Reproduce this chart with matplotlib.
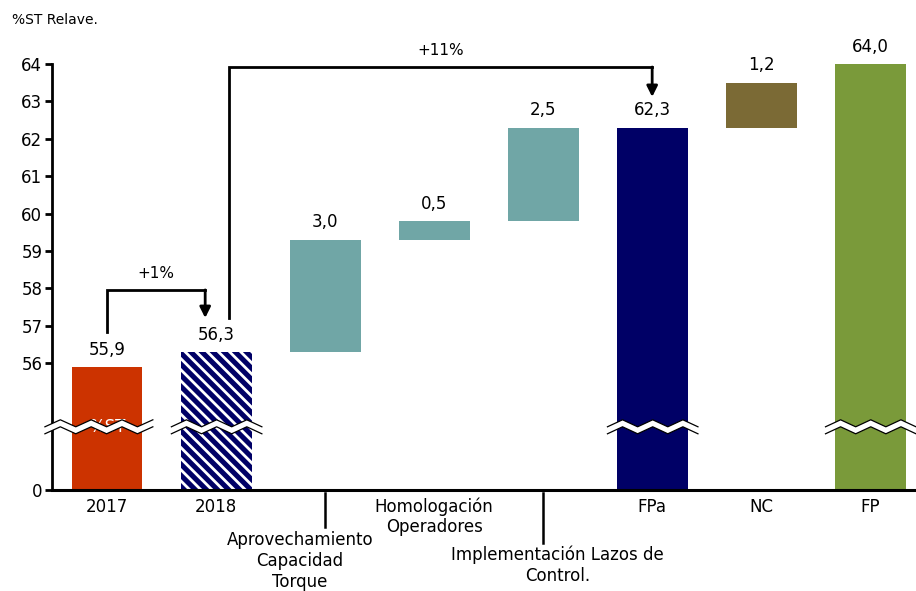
import numpy as np
import matplotlib
matplotlib.use("Agg")
import matplotlib.pyplot as plt
from matplotlib.transforms import blended_transform_factory
from matplotlib.patches import Polygon

# ---- data -------------------------------------------------------------
categories = ["2017", "2018", "Aprovechamiento\nCapacidad\nTorque",
              "Homologación\nOperadores", "Implementación Lazos de\nControl.",
              "FPa", "NC", "FP"]
kinds = ["total", "total", "delta", "delta", "delta", "total", "delta", "total"]
values = [55.9, 56.3, 3.0, 0.5, 2.5, 62.3, 1.2, 64.0]
value_labels = ["55,9", "56,3", "3,0", "0,5", "2,5", "62,3", "1,2", "64,0"]
colors = ["#CC3300", "#000066", "#70A6A6", "#70A6A6", "#70A6A6",
          "#000066", "#7B6A35", "#7A9A3A"]
hatched = [False, True, False, False, False, False, False, False]
growth_labels = ["+1%", "+11%"]
yticks = [0, 56, 57, 58, 59, 60, 61, 62, 63, 64]

# ---- broken y scale: linear above the break, compressed below -----------
BREAK = 54.3
D0 = 52.61


def fwd(y):
    y = np.asarray(y, dtype=float)
    return np.where(y >= BREAK, y, D0 + y * (BREAK - D0) / BREAK)


def inv(d):
    d = np.asarray(d, dtype=float)
    return np.where(d >= BREAK, d, (d - D0) * BREAK / (BREAK - D0))


plt.rcParams["font.family"] = ["DejaVu Sans"]
plt.rcParams["hatch.linewidth"] = 2.0

fig = plt.figure(figsize=(9.16, 5.91), dpi=100)
ax = fig.add_axes([52 / 916, 101 / 591, 1 - 52 / 916, 426 / 591])
ax.set_yscale("function", functions=(fwd, inv))
ax.set_ylim(0, 64)
ax.set_xlim(-0.505, 7.42)

FS = 12
width = 0.65

# ---- bars ---------------------------------------------------------------
bottoms, tops = [], []
running = 0.0
for k, v in zip(kinds, values):
    if k == "total":
        b, t = 0.0, v
        running = v
    else:
        b, t = running, running + v
        running = t
    bottoms.append(b)
    tops.append(t)

x = np.arange(len(categories))
for i in range(len(categories)):
    if hatched[i]:
        ax.bar(x[i], tops[i] - bottoms[i], width, bottom=bottoms[i],
               color=colors[i], edgecolor="white", linewidth=0,
               hatch="\\\\\\", zorder=2)
    else:
        ax.bar(x[i], tops[i] - bottoms[i], width, bottom=bottoms[i],
               color=colors[i], linewidth=0, zorder=2)
    ax.annotate(value_labels[i], (x[i], tops[i]), xytext=(0, 6),
                textcoords="offset points", ha="center", va="bottom",
                fontsize=FS, zorder=5, annotation_clip=False)

# label inside the first bar (partly hidden by the break)
ax.text(x[0], BREAK, "%ST", color="white", ha="center",
        va="center", fontsize=FS, zorder=2.5)

# ---- axis break zigzags -------------------------------------------------
tb = blended_transform_factory(ax.transData, ax.transAxes)
px_x = 1 / 109.0
px_y = 1 / 426.0
yb = (fwd(BREAK) - D0) / (64 - D0)


def zigzag(x0, x1, period=30, amp=3.5, gap=7):
    n = int(round((x1 - x0) / (period * px_x) * 2)) + 1
    xs = np.linspace(x0, x1, n)
    off = np.array([amp if j % 2 else -amp for j in range(n)]) * px_y
    upper = yb + gap / 2 * px_y + off
    lower = yb - gap / 2 * px_y + off
    verts = np.vstack([np.column_stack([xs, upper]),
                       np.column_stack([xs[::-1], lower[::-1]])])
    ax.add_patch(Polygon(verts, closed=True, transform=tb, facecolor="white",
                         edgecolor="none", zorder=3, clip_on=False))
    ax.plot(xs, upper, color="black", lw=0.9, transform=tb, zorder=4,
            clip_on=False)
    ax.plot(xs, lower, color="black", lw=0.9, transform=tb, zorder=4,
            clip_on=False)


for i in range(len(categories)):
    if kinds[i] == "total":
        x0 = x[i] - 0.41
        if i == 0:
            x0 = -0.57
        zigzag(x0, x[i] + 0.42)

# ---- growth brackets ----------------------------------------------------
lw_b = 2.0
# 2017 -> 2018
bx0, bx1 = x[0], x[1] - 0.1
by_top, by_start, by_tip = 57.96, 56.83, 57.21
ax.plot([bx0, bx0, bx1], [by_start, by_top, by_top], color="black",
        lw=lw_b, solid_joinstyle="miter", zorder=5, clip_on=False)
ax.annotate("", xy=(bx1, by_tip), xytext=(bx1, by_top),
            arrowprops=dict(arrowstyle="-|>", color="black", lw=lw_b,
                            mutation_scale=16, shrinkA=0, shrinkB=0),
            zorder=5, annotation_clip=False)
ax.text((bx0 + bx1) / 2, 58.41, growth_labels[0], ha="center",
        va="center", fontsize=FS - 1)

# 2018 -> FPa
cx0, cx1 = x[1] + 0.12, x[5]
cy_top, cy_start, cy_tip = 63.92, 57.21, 63.12
ax.plot([cx0, cx0, cx1], [cy_start, cy_top, cy_top], color="black",
        lw=lw_b, solid_joinstyle="miter", zorder=5, clip_on=False)
ax.annotate("", xy=(cx1, cy_tip), xytext=(cx1, cy_top),
            arrowprops=dict(arrowstyle="-|>", color="black", lw=lw_b,
                            mutation_scale=16, shrinkA=0, shrinkB=0),
            zorder=5, annotation_clip=False)
ax.text(3.06, 64.37, growth_labels[1], ha="center", va="center",
        fontsize=FS - 1, clip_on=False)

# ---- axes styling -------------------------------------------------------
for s in ["top", "right"]:
    ax.spines[s].set_visible(False)
ax.spines["left"].set_linewidth(2.0)
ax.spines["bottom"].set_linewidth(2.2)
ax.set_yticks(yticks)
ax.set_yticklabels([str(t) for t in yticks], fontsize=FS)
ax.tick_params(axis="y", length=5, width=2, pad=2)

# staggered labels for the three step bars, with leader lines
stagger = {2: (-0.23, -41, 37), 3: (0.0, -7, 0), 4: (0.13, -56, 53)}
plain = [i for i in range(len(categories)) if i not in stagger]
ax.set_xticks(x[plain])
ax.set_xticklabels([categories[i] for i in plain], fontsize=FS)
ax.tick_params(axis="x", length=0, pad=6)

tx = blended_transform_factory(ax.transData, ax.transAxes)
for i, (dx, ytop_px, line_px) in stagger.items():
    ax.text(x[i] + dx, ytop_px * px_y, categories[i], transform=tx,
            ha="center", va="top", fontsize=FS, linespacing=1.2,
            clip_on=False)
    if line_px:
        ax.plot([x[i], x[i]], [-3 * px_y, -line_px * px_y], color="black",
                lw=1.8, transform=tx, clip_on=False)

fig.text(12 / 916, 1 - 20 / 591, "%ST Relave.", fontsize=10, va="center",
         ha="left")

fig.savefig("out.png", dpi=100)
